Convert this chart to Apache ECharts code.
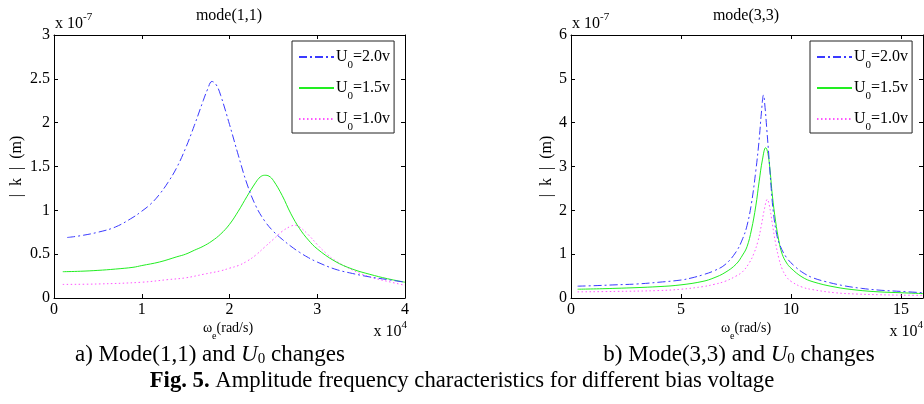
<!DOCTYPE html>
<html>
<head>
<meta charset="utf-8">
<script src="https://cdn.jsdelivr.net/npm/echarts@6/dist/echarts.min.js"></script>
<style>html,body{margin:0;padding:0;background:#fff;}#c{width:924px;height:404px;}</style>
</head>
<body>
<div id="c"></div>
<script>
// ---- data (x in units of 1e4 rad/s, y in units of 1e-7 m) ----
const seriesNames = ['U0=2.0v', 'U0=1.5v', 'U0=1.0v'];
const legendLabels = ['2.0v', '1.5v', '1.0v'];

// mode(1,1)
const m11_u20_x = [0.15,0.3,0.5,0.7,0.9,1.0,1.1,1.2,1.3,1.4,1.5,1.6,1.7,1.75,1.8,1.85,1.9,2.0,2.1,2.2,2.3,2.4,2.5,2.6,2.7,2.8,2.9,3.0,3.2,3.4,3.6,3.8,4.0];
const m11_u20_y = [0.69,0.71,0.75,0.81,0.92,0.99,1.07,1.18,1.32,1.49,1.71,1.97,2.25,2.38,2.47,2.43,2.31,1.98,1.63,1.30,1.05,0.88,0.76,0.67,0.59,0.52,0.46,0.41,0.33,0.28,0.24,0.21,0.18];
const m11_u15_x = [0.1,0.3,0.5,0.7,0.9,1.0,1.2,1.4,1.5,1.6,1.7,1.8,1.9,2.0,2.1,2.2,2.3,2.35,2.4,2.45,2.5,2.6,2.7,2.8,2.9,3.0,3.2,3.4,3.6,3.8,4.0];
const m11_u15_y = [0.30,0.305,0.315,0.33,0.35,0.37,0.41,0.47,0.50,0.545,0.59,0.65,0.73,0.84,0.99,1.16,1.32,1.38,1.40,1.39,1.34,1.17,0.96,0.79,0.66,0.56,0.42,0.33,0.27,0.22,0.18];
const m11_u10_x = [0.1,0.5,1.0,1.3,1.5,1.7,1.9,2.0,2.1,2.2,2.3,2.4,2.5,2.6,2.7,2.75,2.8,2.9,3.0,3.1,3.2,3.4,3.6,3.8,4.0];
const m11_u10_y = [0.155,0.16,0.18,0.21,0.23,0.27,0.31,0.34,0.37,0.42,0.49,0.58,0.67,0.76,0.82,0.83,0.81,0.72,0.61,0.51,0.43,0.32,0.24,0.19,0.145];

// mode(3,3)
const m33_u20_x = [0.3,1,2,3,4,5,5.5,6,6.5,7,7.5,7.8,8.0,8.2,8.4,8.55,8.65,8.75,8.82,8.9,9.0,9.1,9.2,9.35,9.5,9.8,10.2,10.6,11,11.6,12.4,13.2,14,15,16];
const m33_u20_y = [0.27,0.28,0.30,0.32,0.36,0.41,0.46,0.53,0.62,0.76,1.05,1.35,1.65,2.15,2.9,3.6,4.2,4.63,4.35,3.85,3.2,2.5,1.95,1.45,1.2,0.92,0.71,0.56,0.46,0.37,0.28,0.22,0.18,0.15,0.12];
const m33_u15_x = [0.3,2,4,5,6,6.5,7,7.5,7.8,8.0,8.2,8.4,8.55,8.7,8.85,8.95,9.05,9.15,9.3,9.45,9.6,9.8,10.0,10.5,11,12,13,14,15,16];
const m33_u15_y = [0.20,0.22,0.26,0.30,0.38,0.46,0.58,0.77,0.98,1.17,1.55,2.1,2.65,3.15,3.43,3.3,2.9,2.35,1.75,1.3,1.0,0.8,0.68,0.48,0.37,0.25,0.18,0.14,0.12,0.10];
const m33_u10_x = [0.3,2,4,5,6,6.5,7,7.5,7.8,8.1,8.3,8.5,8.65,8.8,8.92,9.02,9.15,9.3,9.45,9.6,9.8,10.0,10.5,11,12,13,14,15,16];
const m33_u10_y = [0.14,0.15,0.17,0.20,0.26,0.31,0.38,0.50,0.60,0.80,1.0,1.3,1.65,2.05,2.25,2.1,1.7,1.25,0.9,0.66,0.48,0.38,0.25,0.19,0.12,0.09,0.075,0.065,0.06];

// axis tick settings
const x1Max = 4, x1Interval = 1;
const y1Max = 3, y1Interval = 0.5;
const x2Max = 16, x2Interval = 5;
const y2Max = 6, y2Interval = 1;

const pair = (xs, ys) => xs.map((x, i) => [x, ys[i]]);

const FONT = 'Liberation Serif';
const colors = ['#3a3aff', '#22ee22', '#ff55ff'];
const dashes = [[8, 3, 2, 3], 'solid', [1.5, 2.5]];

function axisCommon(extra) {
  return Object.assign({
    type: 'value', min: 0,
    axisLine: { show: true, onZero: false, lineStyle: { color: '#000', width: 1 } },
    axisTick: { show: true, inside: true, length: 4, lineStyle: { color: '#000' } },
    splitLine: { show: false },
    axisLabel: { show: false }
  }, extra);
}

const labelStyle = { show: true, color: '#000', fontFamily: FONT, fontSize: 16, margin: 4 };
const yNameStyle = { fontFamily: FONT, fontSize: 16, color: '#000' };
const yName = '|  k  |  (m)';

const xAxes = [
  axisCommon({ gridIndex: 0, position: 'bottom', max: x1Max, interval: x1Interval, axisLabel: labelStyle }),
  axisCommon({ gridIndex: 0, position: 'top', max: x1Max, interval: x1Interval }),
  axisCommon({ gridIndex: 1, position: 'bottom', max: x2Max, interval: x2Interval,
    axisLabel: Object.assign({}, labelStyle, { showMaxLabel: false }) }),
  axisCommon({ gridIndex: 1, position: 'top', max: x2Max, interval: x2Interval })
];
const yAxes = [
  axisCommon({ gridIndex: 0, position: 'left', max: y1Max, interval: y1Interval, axisLabel: labelStyle,
    name: yName, nameLocation: 'middle', nameGap: 29, nameTextStyle: yNameStyle }),
  axisCommon({ gridIndex: 0, position: 'right', max: y1Max, interval: y1Interval }),
  axisCommon({ gridIndex: 1, position: 'left', max: y2Max, interval: y2Interval, axisLabel: labelStyle,
    name: yName, nameLocation: 'middle', nameGap: 16, nameTextStyle: yNameStyle }),
  axisCommon({ gridIndex: 1, position: 'right', max: y2Max, interval: y2Interval })
];

const data1 = [pair(m11_u20_x, m11_u20_y), pair(m11_u15_x, m11_u15_y), pair(m11_u10_x, m11_u10_y)];
const data2 = [pair(m33_u20_x, m33_u20_y), pair(m33_u15_x, m33_u15_y), pair(m33_u10_x, m33_u10_y)];

const series = [];
[data1, data2].forEach((set, g) => {
  set.forEach((d, i) => {
    series.push({
      type: 'line', name: seriesNames[i], xAxisIndex: g * 2, yAxisIndex: g * 2,
      data: d, showSymbol: false, symbol: 'none', smooth: 0.4,
      lineStyle: { color: colors[i], width: 1, type: dashes[i] },
      itemStyle: { color: colors[i] },
      z: 3 - i
    });
  });
});

function legendFor(left) {
  return {
    data: seriesNames, orient: 'vertical', left: left, top: 41,
    borderColor: '#222', borderWidth: 1, padding: [8, 4, 0, 6],
    itemWidth: 35, itemHeight: 14, itemGap: 9, selectedMode: false,
    itemStyle: { opacity: 0, borderWidth: 0 },
    formatter: name => '{a|U}{s|0}{a|=' + legendLabels[seriesNames.indexOf(name)] + '}',
    textStyle: {
      color: '#000', fontFamily: FONT, fontSize: 16, padding: [0, 0, 0, -3],
      rich: {
        a: { fontFamily: FONT, fontSize: 16, lineHeight: 28, verticalAlign: 'middle', color: '#000' },
        s: { fontFamily: FONT, fontSize: 11, lineHeight: 28, verticalAlign: 'bottom', color: '#000' }
      }
    }
  };
}

function sciText(x, y, base, exp, align) {
  return {
    type: 'text', x: x, y: y, z: 10,
    style: {
      text: '{b|' + base + '}{p|' + exp + '}', align: align, verticalAlign: 'middle', fill: '#000',
      rich: {
        b: { fontFamily: FONT, fontSize: 16, lineHeight: 24, verticalAlign: 'middle', fill: '#000' },
        p: { fontFamily: FONT, fontSize: 11, lineHeight: 24, verticalAlign: 'top', fill: '#000' }
      }
    }
  };
}
function omegaText(x, y) {
  return {
    type: 'text', x: x, y: y, z: 10,
    style: {
      text: '{w|ω}{e|e}{r|(rad/s)}', align: 'center', verticalAlign: 'middle', fill: '#000',
      rich: {
        w: { fontFamily: FONT, fontSize: 14, lineHeight: 26, verticalAlign: 'middle', fill: '#000' },
        e: { fontFamily: FONT, fontSize: 10, lineHeight: 26, verticalAlign: 'bottom', fill: '#000' },
        r: { fontFamily: FONT, fontSize: 14, lineHeight: 26, verticalAlign: 'middle', fill: '#000' }
      }
    }
  };
}
function plainText(x, y, text, size) {
  return { type: 'text', x: x, y: y, z: 10,
    style: { text: text, font: size + 'px "' + FONT + '"', fill: '#000', align: 'center', verticalAlign: 'middle' } };
}
function caption(x, y, pre) {
  return {
    type: 'text', x: x, y: y, z: 10,
    style: {
      text: '{t|' + pre + ' and }{i|U}{s|0}{t| changes}', align: 'center', verticalAlign: 'middle', fill: '#000',
      rich: {
        t: { fontFamily: FONT, fontSize: 23, lineHeight: 30, verticalAlign: 'middle', fill: '#000' },
        i: { fontFamily: FONT, fontSize: 23, fontStyle: 'italic', lineHeight: 30, verticalAlign: 'middle', fill: '#000' },
        s: { fontFamily: FONT, fontSize: 15, lineHeight: 30, verticalAlign: 'bottom', fill: '#000', padding: [0, 0, 3, 0] }
      }
    }
  };
}

const option = {
  animation: false,
  backgroundColor: '#fff',
  grid: [
    { left: 54, top: 35, width: 351, height: 263, show: false },
    { left: 571, top: 35, width: 352, height: 263, show: false }
  ],
  xAxis: xAxes,
  yAxis: yAxes,
  legend: [legendFor(292), legendFor(810)],
  series: series,
  graphic: [
    plainText(229, 16, 'mode(1,1)', 16),
    plainText(746, 16, 'mode(3,3)', 16),
    sciText(55, 24, 'x 10', '-7', 'left'),
    sciText(572, 24, 'x 10', '-7', 'left'),
    omegaText(228, 328),
    omegaText(746, 328),
    sciText(407, 332, 'x 10', '4', 'right'),
    sciText(923, 332, 'x 10', '4', 'right'),
    caption(210, 355, 'a) Mode(1,1)'),
    caption(739, 355, 'b) Mode(3,3)'),
    {
      type: 'text', x: 462, y: 381, z: 10,
      style: {
        text: '{b|Fig. 5.}{t| Amplitude frequency characteristics for different bias voltage}',
        align: 'center', verticalAlign: 'middle', fill: '#000',
        rich: {
          b: { fontFamily: FONT, fontSize: 22.7, fontWeight: 'bold', fill: '#000' },
          t: { fontFamily: FONT, fontSize: 22.7, fill: '#000' }
        }
      }
    }
  ]
};

const chart = echarts.init(document.getElementById('c'), null, { renderer: 'canvas' });
chart.setOption(option);
</script>
</body>
</html>
